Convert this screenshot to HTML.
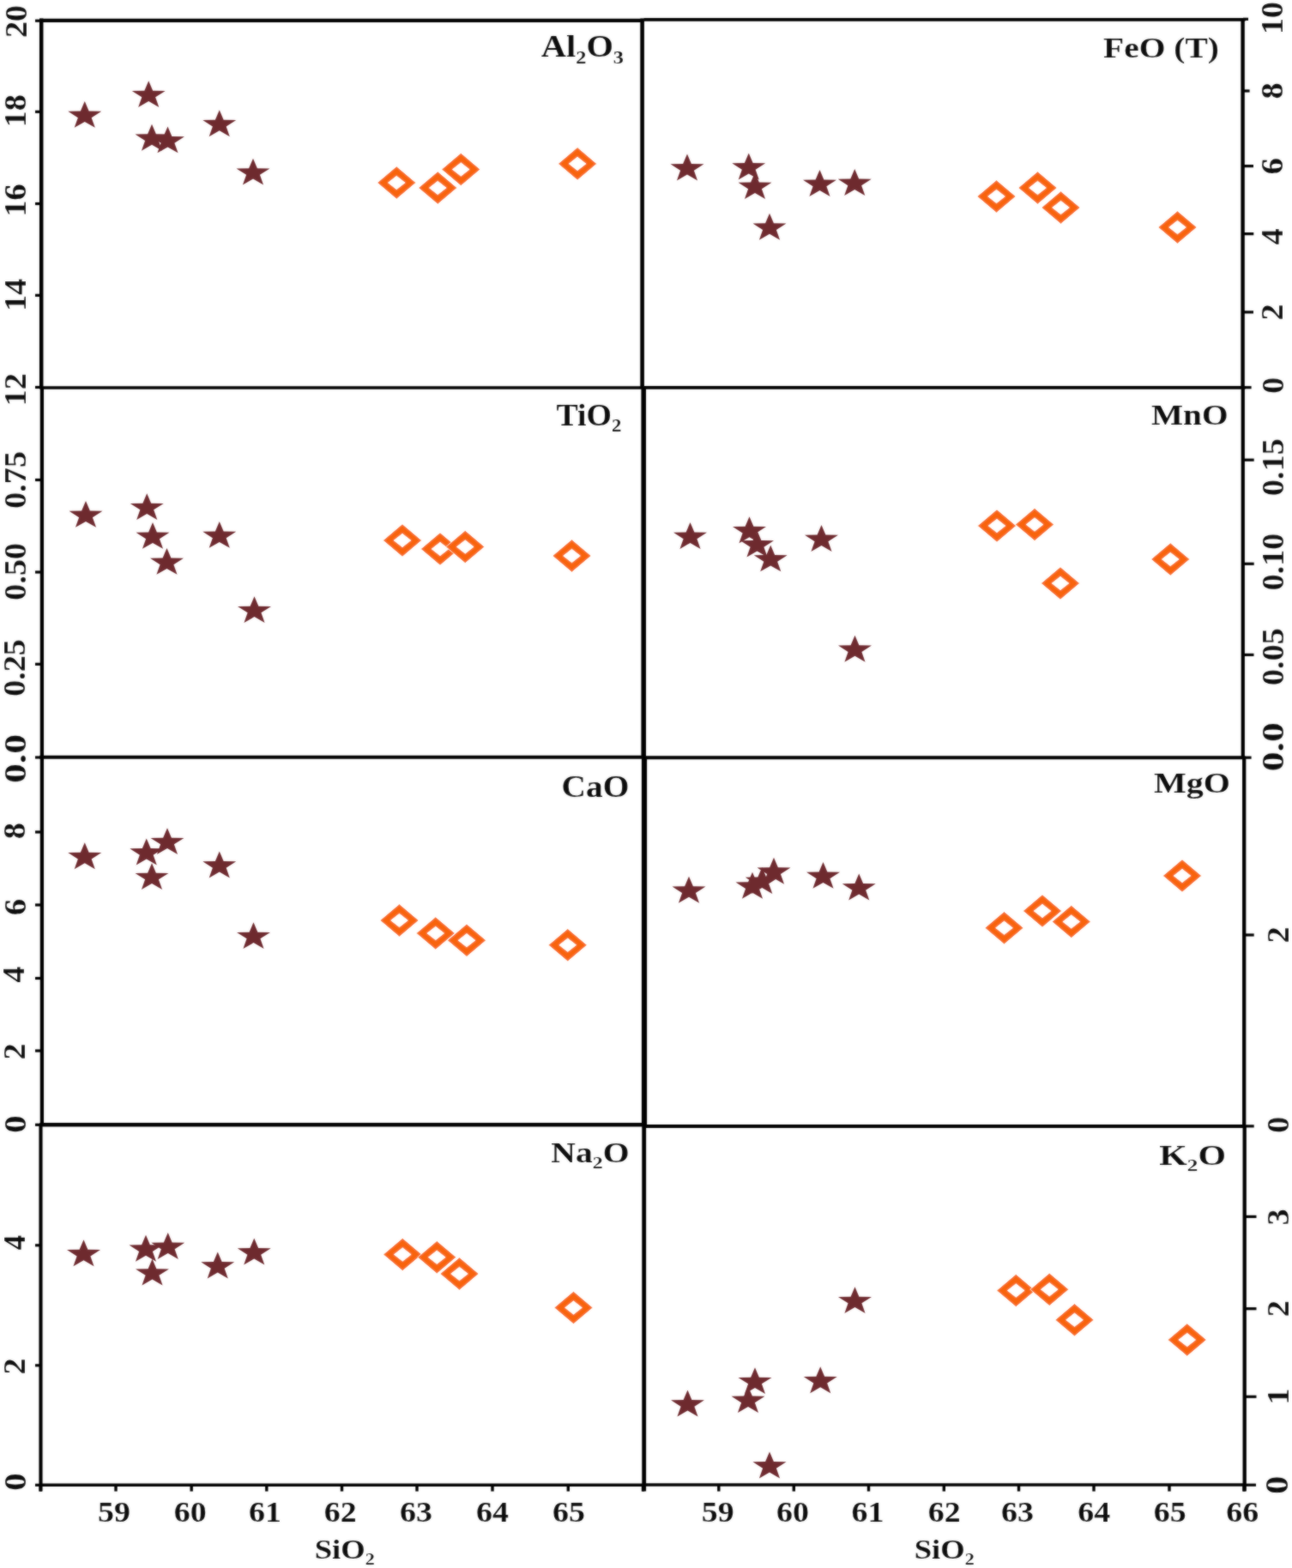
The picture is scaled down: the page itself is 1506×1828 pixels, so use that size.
<!DOCTYPE html><html><head><meta charset="utf-8"><title>Harker diagrams</title>
<style>html,body{margin:0;padding:0;background:#fff}body{width:1506px;height:1828px;overflow:hidden}svg{display:block}text{font-family:'Liberation Serif', 'DejaVu Serif', serif;font-weight:bold;fill:#0a0a0a;stroke:#fff;stroke-width:0.1px}</style></head><body>
<svg width="1506" height="1828" viewBox="0 0 1506 1828">
<defs><filter id="b" x="-2%" y="-2%" width="104%" height="104%"><feGaussianBlur in="SourceGraphic" stdDeviation="0.8" result="g"/><feComposite in="SourceGraphic" in2="g" operator="arithmetic" k1="0" k2="0.45" k3="0.55" k4="0"/></filter></defs>
<rect width="1506" height="1828" fill="#fff"/>
<g filter="url(#b)">
<g stroke="#050505" fill="none">
<line x1="46.3" y1="23.80" x2="750.5" y2="23.80" stroke-width="4.3"/>
<line x1="750.5" y1="22.90" x2="1451.5" y2="22.90" stroke-width="3.7"/>
<line x1="46.3" y1="452.00" x2="750.5" y2="452.00" stroke-width="3.7"/>
<line x1="750.5" y1="451.90" x2="1451.5" y2="451.90" stroke-width="3.6"/>
<line x1="46.3" y1="882.80" x2="750.5" y2="882.80" stroke-width="4.0"/>
<line x1="750.5" y1="883.20" x2="1451.5" y2="883.20" stroke-width="3.9"/>
<line x1="46.3" y1="1311.30" x2="750.5" y2="1311.30" stroke-width="4.6"/>
<line x1="750.5" y1="1313.10" x2="1451.5" y2="1313.10" stroke-width="4.0"/>
<line x1="46.3" y1="1731.30" x2="750.5" y2="1731.30" stroke-width="3.5"/>
<line x1="750.5" y1="1731.00" x2="1451.5" y2="1731.00" stroke-width="3.4"/>
<line x1="48.20" y1="21.5" x2="48.20" y2="452.0" stroke-width="4.5"/>
<line x1="48.90" y1="452.0" x2="48.90" y2="883.0" stroke-width="4.3"/>
<line x1="48.90" y1="883.0" x2="48.90" y2="1312.0" stroke-width="4.3"/>
<line x1="47.50" y1="1312.0" x2="47.50" y2="1738.5" stroke-width="4.1"/>
<line x1="748.60" y1="21.5" x2="748.60" y2="452.0" stroke-width="4.6"/>
<line x1="750.20" y1="452.0" x2="750.20" y2="883.0" stroke-width="5.6"/>
<line x1="751.00" y1="883.0" x2="751.00" y2="1312.0" stroke-width="6.2"/>
<line x1="750.70" y1="1312.0" x2="750.70" y2="1738.5" stroke-width="4.8"/>
<line x1="1448.60" y1="21.5" x2="1448.60" y2="452.0" stroke-width="4.4"/>
<line x1="1448.80" y1="452.0" x2="1448.80" y2="883.0" stroke-width="4.2"/>
<line x1="1450.20" y1="883.0" x2="1450.20" y2="1312.0" stroke-width="4.3"/>
<line x1="1450.70" y1="1312.0" x2="1450.70" y2="1738.5" stroke-width="4.3"/>
<line x1="41.0" y1="24.20" x2="48.8" y2="24.20" stroke-width="3.2"/>
<line x1="41.0" y1="130.30" x2="48.8" y2="130.30" stroke-width="3.2"/>
<line x1="41.0" y1="237.50" x2="48.8" y2="237.50" stroke-width="3.2"/>
<line x1="41.0" y1="344.30" x2="48.8" y2="344.30" stroke-width="3.2"/>
<line x1="41.0" y1="451.50" x2="48.8" y2="451.50" stroke-width="3.2"/>
<line x1="41.0" y1="559.50" x2="48.8" y2="559.50" stroke-width="3.2"/>
<line x1="41.0" y1="667.00" x2="48.8" y2="667.00" stroke-width="3.2"/>
<line x1="41.0" y1="774.30" x2="48.8" y2="774.30" stroke-width="3.2"/>
<line x1="41.0" y1="883.00" x2="48.8" y2="883.00" stroke-width="3.2"/>
<line x1="41.0" y1="970.00" x2="48.8" y2="970.00" stroke-width="3.2"/>
<line x1="41.0" y1="1055.00" x2="48.8" y2="1055.00" stroke-width="3.2"/>
<line x1="41.0" y1="1140.50" x2="48.8" y2="1140.50" stroke-width="3.2"/>
<line x1="41.0" y1="1225.00" x2="48.8" y2="1225.00" stroke-width="3.2"/>
<line x1="41.0" y1="1311.30" x2="48.8" y2="1311.30" stroke-width="3.2"/>
<line x1="41.0" y1="1451.80" x2="48.8" y2="1451.80" stroke-width="3.2"/>
<line x1="41.0" y1="1591.80" x2="48.8" y2="1591.80" stroke-width="3.2"/>
<line x1="41.0" y1="1731.30" x2="48.8" y2="1731.30" stroke-width="3.2"/>
<line x1="1449.0" y1="22.30" x2="1455.0" y2="22.30" stroke-width="3.2"/>
<line x1="1449.0" y1="106.00" x2="1456.6" y2="106.00" stroke-width="3.2"/>
<line x1="1449.0" y1="193.60" x2="1461.0" y2="193.60" stroke-width="3.2"/>
<line x1="1449.0" y1="272.60" x2="1461.3" y2="272.60" stroke-width="3.2"/>
<line x1="1449.0" y1="363.90" x2="1461.0" y2="363.90" stroke-width="3.2"/>
<line x1="1449.0" y1="451.70" x2="1458.6" y2="451.70" stroke-width="3.2"/>
<line x1="1449.0" y1="536.20" x2="1461.7" y2="536.20" stroke-width="3.2"/>
<line x1="1449.0" y1="657.30" x2="1461.7" y2="657.30" stroke-width="3.2"/>
<line x1="1449.0" y1="763.40" x2="1461.5" y2="763.40" stroke-width="3.2"/>
<line x1="1449.0" y1="883.20" x2="1458.6" y2="883.20" stroke-width="3.2"/>
<line x1="1449.0" y1="1090.00" x2="1461.7" y2="1090.00" stroke-width="3.2"/>
<line x1="1449.0" y1="1312.90" x2="1461.7" y2="1312.90" stroke-width="3.2"/>
<line x1="1449.0" y1="1418.40" x2="1464.5" y2="1418.40" stroke-width="3.2"/>
<line x1="1449.0" y1="1525.70" x2="1464.5" y2="1525.70" stroke-width="3.2"/>
<line x1="1449.0" y1="1628.30" x2="1464.5" y2="1628.30" stroke-width="3.2"/>
<line x1="1449.0" y1="1731.20" x2="1464.0" y2="1731.20" stroke-width="3.2"/>
<line x1="47.30" y1="1731.0" x2="47.30" y2="1738.6" stroke-width="3.4"/>
<line x1="135.00" y1="1731.0" x2="135.00" y2="1738.6" stroke-width="3.4"/>
<line x1="223.20" y1="1731.0" x2="223.20" y2="1738.6" stroke-width="3.4"/>
<line x1="310.80" y1="1731.0" x2="310.80" y2="1738.6" stroke-width="3.4"/>
<line x1="398.50" y1="1731.0" x2="398.50" y2="1738.6" stroke-width="3.4"/>
<line x1="486.00" y1="1731.0" x2="486.00" y2="1738.6" stroke-width="3.4"/>
<line x1="574.00" y1="1731.0" x2="574.00" y2="1738.6" stroke-width="3.4"/>
<line x1="662.30" y1="1731.0" x2="662.30" y2="1738.6" stroke-width="3.4"/>
<line x1="749.50" y1="1731.0" x2="749.50" y2="1738.6" stroke-width="3.4"/>
<line x1="837.80" y1="1731.0" x2="837.80" y2="1738.6" stroke-width="3.4"/>
<line x1="925.30" y1="1731.0" x2="925.30" y2="1738.6" stroke-width="3.4"/>
<line x1="1012.50" y1="1731.0" x2="1012.50" y2="1738.6" stroke-width="3.4"/>
<line x1="1100.30" y1="1731.0" x2="1100.30" y2="1738.6" stroke-width="3.4"/>
<line x1="1187.50" y1="1731.0" x2="1187.50" y2="1738.6" stroke-width="3.4"/>
<line x1="1275.00" y1="1731.0" x2="1275.00" y2="1738.6" stroke-width="3.4"/>
<line x1="1363.00" y1="1731.0" x2="1363.00" y2="1738.6" stroke-width="3.4"/>
<line x1="1450.00" y1="1731.0" x2="1450.00" y2="1738.6" stroke-width="3.4"/>
</g>
<g fill="#6e2a2f">
<polygon points="98.75,118.02 103.63,129.45 118.25,129.77 106.65,137.15 110.80,148.78 98.75,141.91 86.70,148.78 90.85,137.15 79.25,129.77 93.87,129.45"/>
<polygon points="173.25,94.22 178.13,105.65 192.75,105.97 181.15,113.35 185.30,124.98 173.25,118.11 161.20,124.98 165.35,113.35 153.75,105.97 168.37,105.65"/>
<polygon points="177.00,144.87 181.88,156.30 196.50,156.62 184.90,164.00 189.05,175.63 177.00,168.76 164.95,175.63 169.10,164.00 157.50,156.62 172.12,156.30"/>
<polygon points="195.50,147.52 200.38,158.95 215.00,159.27 203.40,166.65 207.55,178.28 195.50,171.41 183.45,178.28 187.60,166.65 176.00,159.27 190.62,158.95"/>
<polygon points="255.75,128.37 260.63,139.80 275.25,140.12 263.65,147.50 267.80,159.13 255.75,152.26 243.70,159.13 247.85,147.50 236.25,140.12 250.87,139.80"/>
<polygon points="295.00,184.72 299.88,196.15 314.50,196.47 302.90,203.85 307.05,215.48 295.00,208.61 282.95,215.48 287.10,203.85 275.50,196.47 290.12,196.15"/>
<polygon points="801.00,179.62 805.88,191.05 820.50,191.37 808.90,198.75 813.05,210.38 801.00,203.51 788.95,210.38 793.10,198.75 781.50,191.37 796.12,191.05"/>
<polygon points="872.75,178.62 877.63,190.05 892.25,190.37 880.65,197.75 884.80,209.38 872.75,202.51 860.70,209.38 864.85,197.75 853.25,190.37 867.87,190.05"/>
<polygon points="880.00,201.12 884.88,212.55 899.50,212.87 887.90,220.25 892.05,231.88 880.00,225.01 867.95,231.88 872.10,220.25 860.50,212.87 875.12,212.55"/>
<polygon points="897.00,248.87 901.88,260.30 916.50,260.62 904.90,268.00 909.05,279.63 897.00,272.76 884.95,279.63 889.10,268.00 877.50,260.62 892.12,260.30"/>
<polygon points="955.50,198.12 960.38,209.55 975.00,209.87 963.40,217.25 967.55,228.88 955.50,222.01 943.45,228.88 947.60,217.25 936.00,209.87 950.62,209.55"/>
<polygon points="996.25,197.12 1001.13,208.55 1015.75,208.87 1004.15,216.25 1008.30,227.88 996.25,221.01 984.20,227.88 988.35,216.25 976.75,208.87 991.37,208.55"/>
<polygon points="100.00,584.02 104.88,595.45 119.50,595.77 107.90,603.15 112.05,614.78 100.00,607.91 87.95,614.78 92.10,603.15 80.50,595.77 95.12,595.45"/>
<polygon points="171.25,575.22 176.13,586.65 190.75,586.97 179.15,594.35 183.30,605.98 171.25,599.11 159.20,605.98 163.35,594.35 151.75,586.97 166.37,586.65"/>
<polygon points="178.00,609.02 182.88,620.45 197.50,620.77 185.90,628.15 190.05,639.78 178.00,632.91 165.95,639.78 170.10,628.15 158.50,620.77 173.12,620.45"/>
<polygon points="194.50,639.02 199.38,650.45 214.00,650.77 202.40,658.15 206.55,669.78 194.50,662.91 182.45,669.78 186.60,658.15 175.00,650.77 189.62,650.45"/>
<polygon points="255.75,608.02 260.63,619.45 275.25,619.77 263.65,627.15 267.80,638.78 255.75,631.91 243.70,638.78 247.85,627.15 236.25,619.77 250.87,619.45"/>
<polygon points="296.50,695.22 301.38,706.65 316.00,706.97 304.40,714.35 308.55,725.98 296.50,719.11 284.45,725.98 288.60,714.35 277.00,706.97 291.62,706.65"/>
<polygon points="804.50,609.12 809.38,620.55 824.00,620.87 812.40,628.25 816.55,639.88 804.50,633.01 792.45,639.88 796.60,628.25 785.00,620.87 799.62,620.55"/>
<polygon points="873.50,602.37 878.38,613.80 893.00,614.12 881.40,621.50 885.55,633.13 873.50,626.26 861.45,633.13 865.60,621.50 854.00,614.12 868.62,613.80"/>
<polygon points="882.50,618.62 887.38,630.05 902.00,630.37 890.40,637.75 894.55,649.38 882.50,642.51 870.45,649.38 874.60,637.75 863.00,630.37 877.62,630.05"/>
<polygon points="898.25,635.52 903.13,646.95 917.75,647.27 906.15,654.65 910.30,666.28 898.25,659.41 886.20,666.28 890.35,654.65 878.75,647.27 893.37,646.95"/>
<polygon points="957.50,612.12 962.38,623.55 977.00,623.87 965.40,631.25 969.55,642.88 957.50,636.01 945.45,642.88 949.60,631.25 938.00,623.87 952.62,623.55"/>
<polygon points="996.50,740.87 1001.38,752.30 1016.00,752.62 1004.40,760.00 1008.55,771.63 996.50,764.76 984.45,771.63 988.60,760.00 977.00,752.62 991.62,752.30"/>
<polygon points="98.75,982.37 103.63,993.80 118.25,994.12 106.65,1001.50 110.80,1013.13 98.75,1006.26 86.70,1013.13 90.85,1001.50 79.25,994.12 93.87,993.80"/>
<polygon points="170.75,977.62 175.63,989.05 190.25,989.37 178.65,996.75 182.80,1008.38 170.75,1001.51 158.70,1008.38 162.85,996.75 151.25,989.37 165.87,989.05"/>
<polygon points="195.00,965.22 199.88,976.65 214.50,976.97 202.90,984.35 207.05,995.98 195.00,989.11 182.95,995.98 187.10,984.35 175.50,976.97 190.12,976.65"/>
<polygon points="177.00,1006.22 181.88,1017.65 196.50,1017.97 184.90,1025.35 189.05,1036.98 177.00,1030.11 164.95,1036.98 169.10,1025.35 157.50,1017.97 172.12,1017.65"/>
<polygon points="255.75,992.62 260.63,1004.05 275.25,1004.37 263.65,1011.75 267.80,1023.38 255.75,1016.51 243.70,1023.38 247.85,1011.75 236.25,1004.37 250.87,1004.05"/>
<polygon points="295.50,1075.22 300.38,1086.65 315.00,1086.97 303.40,1094.35 307.55,1105.98 295.50,1099.11 283.45,1105.98 287.60,1094.35 276.00,1086.97 290.62,1086.65"/>
<polygon points="803.00,1021.87 807.88,1033.30 822.50,1033.62 810.90,1041.00 815.05,1052.63 803.00,1045.76 790.95,1052.63 795.10,1041.00 783.50,1033.62 798.12,1033.30"/>
<polygon points="877.00,1016.87 881.88,1028.30 896.50,1028.62 884.90,1036.00 889.05,1047.63 877.00,1040.76 864.95,1047.63 869.10,1036.00 857.50,1028.62 872.12,1028.30"/>
<polygon points="888.25,1011.12 893.13,1022.55 907.75,1022.87 896.15,1030.25 900.30,1041.88 888.25,1035.01 876.20,1041.88 880.35,1030.25 868.75,1022.87 883.37,1022.55"/>
<polygon points="902.00,999.87 906.88,1011.30 921.50,1011.62 909.90,1019.00 914.05,1030.63 902.00,1023.76 889.95,1030.63 894.10,1019.00 882.50,1011.62 897.12,1011.30"/>
<polygon points="959.50,1005.02 964.38,1016.45 979.00,1016.77 967.40,1024.15 971.55,1035.78 959.50,1028.91 947.45,1035.78 951.60,1024.15 940.00,1016.77 954.62,1016.45"/>
<polygon points="1001.25,1018.62 1006.13,1030.05 1020.75,1030.37 1009.15,1037.75 1013.30,1049.38 1001.25,1042.51 989.20,1049.38 993.35,1037.75 981.75,1030.37 996.37,1030.05"/>
<polygon points="97.50,1445.37 102.38,1456.80 117.00,1457.12 105.40,1464.50 109.55,1476.13 97.50,1469.26 85.45,1476.13 89.60,1464.50 78.00,1457.12 92.62,1456.80"/>
<polygon points="170.00,1439.87 174.88,1451.30 189.50,1451.62 177.90,1459.00 182.05,1470.63 170.00,1463.76 157.95,1470.63 162.10,1459.00 150.50,1451.62 165.12,1451.30"/>
<polygon points="195.75,1437.12 200.63,1448.55 215.25,1448.87 203.65,1456.25 207.80,1467.88 195.75,1461.01 183.70,1467.88 187.85,1456.25 176.25,1448.87 190.87,1448.55"/>
<polygon points="177.50,1467.72 182.38,1479.15 197.00,1479.47 185.40,1486.85 189.55,1498.48 177.50,1491.61 165.45,1498.48 169.60,1486.85 158.00,1479.47 172.62,1479.15"/>
<polygon points="253.75,1459.62 258.63,1471.05 273.25,1471.37 261.65,1478.75 265.80,1490.38 253.75,1483.51 241.70,1490.38 245.85,1478.75 234.25,1471.37 248.87,1471.05"/>
<polygon points="296.25,1443.62 301.13,1455.05 315.75,1455.37 304.15,1462.75 308.30,1474.38 296.25,1467.51 284.20,1474.38 288.35,1462.75 276.75,1455.37 291.37,1455.05"/>
<polygon points="801.50,1620.62 806.38,1632.05 821.00,1632.37 809.40,1639.75 813.55,1651.38 801.50,1644.51 789.45,1651.38 793.60,1639.75 782.00,1632.37 796.62,1632.05"/>
<polygon points="872.00,1616.12 876.88,1627.55 891.50,1627.87 879.90,1635.25 884.05,1646.88 872.00,1640.01 859.95,1646.88 864.10,1635.25 852.50,1627.87 867.12,1627.55"/>
<polygon points="880.00,1594.22 884.88,1605.65 899.50,1605.97 887.90,1613.35 892.05,1624.98 880.00,1618.11 867.95,1624.98 872.10,1613.35 860.50,1605.97 875.12,1605.65"/>
<polygon points="897.00,1692.62 901.88,1704.05 916.50,1704.37 904.90,1711.75 909.05,1723.38 897.00,1716.51 884.95,1723.38 889.10,1711.75 877.50,1704.37 892.12,1704.05"/>
<polygon points="956.25,1593.37 961.13,1604.80 975.75,1605.12 964.15,1612.50 968.30,1624.13 956.25,1617.26 944.20,1624.13 948.35,1612.50 936.75,1605.12 951.37,1604.80"/>
<polygon points="996.50,1500.22 1001.38,1511.65 1016.00,1511.97 1004.40,1519.35 1008.55,1530.98 996.50,1524.11 984.45,1530.98 988.60,1519.35 977.00,1511.97 991.62,1511.65"/>
</g>
<g fill="#f86407" fill-rule="evenodd" stroke="#fff" stroke-width="0.8">
<path d="M439.75 213.00L462.25 193.90L484.75 213.00L462.25 232.10ZM452.35 213.00L462.25 205.20L472.15 213.00L462.25 220.80Z"/>
<path d="M487.75 219.00L510.25 199.90L532.75 219.00L510.25 238.10ZM500.35 219.00L510.25 211.20L520.15 219.00L510.25 226.80Z"/>
<path d="M514.75 197.50L537.25 178.40L559.75 197.50L537.25 216.60ZM527.35 197.50L537.25 189.70L547.15 197.50L537.25 205.30Z"/>
<path d="M650.60 190.90L673.10 171.80L695.60 190.90L673.10 210.00ZM663.20 190.90L673.10 183.10L683.00 190.90L673.10 198.70Z"/>
<path d="M1139.00 229.00L1161.50 209.90L1184.00 229.00L1161.50 248.10ZM1151.60 229.00L1161.50 221.20L1171.40 229.00L1161.50 236.80Z"/>
<path d="M1187.00 219.00L1209.50 199.90L1232.00 219.00L1209.50 238.10ZM1199.60 219.00L1209.50 211.20L1219.40 219.00L1209.50 226.80Z"/>
<path d="M1214.00 242.00L1236.50 222.90L1259.00 242.00L1236.50 261.10ZM1226.60 242.00L1236.50 234.20L1246.40 242.00L1236.50 249.80Z"/>
<path d="M1350.00 265.00L1372.50 245.90L1395.00 265.00L1372.50 284.10ZM1362.60 265.00L1372.50 257.20L1382.40 265.00L1372.50 272.80Z"/>
<path d="M446.50 630.00L469.00 610.90L491.50 630.00L469.00 649.10ZM459.10 630.00L469.00 622.20L478.90 630.00L469.00 637.80Z"/>
<path d="M490.50 640.00L513.00 620.90L535.50 640.00L513.00 659.10ZM503.10 640.00L513.00 632.20L522.90 640.00L513.00 647.80Z"/>
<path d="M519.75 637.50L542.25 618.40L564.75 637.50L542.25 656.60ZM532.35 637.50L542.25 629.70L552.15 637.50L542.25 645.30Z"/>
<path d="M644.00 648.00L666.50 628.90L689.00 648.00L666.50 667.10ZM656.60 648.00L666.50 640.20L676.40 648.00L666.50 655.80Z"/>
<path d="M1139.50 613.00L1162.00 593.90L1184.50 613.00L1162.00 632.10ZM1152.10 613.00L1162.00 605.20L1171.90 613.00L1162.00 620.80Z"/>
<path d="M1183.50 611.50L1206.00 592.40L1228.50 611.50L1206.00 630.60ZM1196.10 611.50L1206.00 603.70L1215.90 611.50L1206.00 619.30Z"/>
<path d="M1213.50 680.00L1236.00 660.90L1258.50 680.00L1236.00 699.10ZM1226.10 680.00L1236.00 672.20L1245.90 680.00L1236.00 687.80Z"/>
<path d="M1341.75 652.00L1364.25 632.90L1386.75 652.00L1364.25 671.10ZM1354.35 652.00L1364.25 644.20L1374.15 652.00L1364.25 659.80Z"/>
<path d="M443.00 1073.00L465.50 1053.90L488.00 1073.00L465.50 1092.10ZM455.60 1073.00L465.50 1065.20L475.40 1073.00L465.50 1080.80Z"/>
<path d="M485.25 1088.00L507.75 1068.90L530.25 1088.00L507.75 1107.10ZM497.85 1088.00L507.75 1080.20L517.65 1088.00L507.75 1095.80Z"/>
<path d="M521.50 1096.25L544.00 1077.15L566.50 1096.25L544.00 1115.35ZM534.10 1096.25L544.00 1088.45L553.90 1096.25L544.00 1104.05Z"/>
<path d="M639.25 1101.75L661.75 1082.65L684.25 1101.75L661.75 1120.85ZM651.85 1101.75L661.75 1093.95L671.65 1101.75L661.75 1109.55Z"/>
<path d="M1148.00 1081.75L1170.50 1062.65L1193.00 1081.75L1170.50 1100.85ZM1160.60 1081.75L1170.50 1073.95L1180.40 1081.75L1170.50 1089.55Z"/>
<path d="M1192.50 1062.00L1215.00 1042.90L1237.50 1062.00L1215.00 1081.10ZM1205.10 1062.00L1215.00 1054.20L1224.90 1062.00L1215.00 1069.80Z"/>
<path d="M1226.25 1074.50L1248.75 1055.40L1271.25 1074.50L1248.75 1093.60ZM1238.85 1074.50L1248.75 1066.70L1258.65 1074.50L1248.75 1082.30Z"/>
<path d="M1355.50 1021.00L1378.00 1001.90L1400.50 1021.00L1378.00 1040.10ZM1368.10 1021.00L1378.00 1013.20L1387.90 1021.00L1378.00 1028.80Z"/>
<path d="M446.75 1462.50L469.25 1443.40L491.75 1462.50L469.25 1481.60ZM459.35 1462.50L469.25 1454.70L479.15 1462.50L469.25 1470.30Z"/>
<path d="M486.75 1465.75L509.25 1446.65L531.75 1465.75L509.25 1484.85ZM499.35 1465.75L509.25 1457.95L519.15 1465.75L509.25 1473.55Z"/>
<path d="M513.00 1485.00L535.50 1465.90L558.00 1485.00L535.50 1504.10ZM525.60 1485.00L535.50 1477.20L545.40 1485.00L535.50 1492.80Z"/>
<path d="M646.00 1524.50L668.50 1505.40L691.00 1524.50L668.50 1543.60ZM658.60 1524.50L668.50 1516.70L678.40 1524.50L668.50 1532.30Z"/>
<path d="M1161.75 1504.50L1184.25 1485.40L1206.75 1504.50L1184.25 1523.60ZM1174.35 1504.50L1184.25 1496.70L1194.15 1504.50L1184.25 1512.30Z"/>
<path d="M1200.75 1503.25L1223.25 1484.15L1245.75 1503.25L1223.25 1522.35ZM1213.35 1503.25L1223.25 1495.45L1233.15 1503.25L1223.25 1511.05Z"/>
<path d="M1230.00 1538.75L1252.50 1519.65L1275.00 1538.75L1252.50 1557.85ZM1242.60 1538.75L1252.50 1530.95L1262.40 1538.75L1252.50 1546.55Z"/>
<path d="M1361.25 1562.00L1383.75 1542.90L1406.25 1562.00L1383.75 1581.10ZM1373.85 1562.00L1383.75 1554.20L1393.65 1562.00L1383.75 1569.80Z"/>
</g>
<g font-size="35" text-anchor="middle" letter-spacing="0">
<text transform="translate(30.60,25.00) rotate(-90) scale(1.090,1)">20</text>
<text transform="translate(30.40,129.20) rotate(-90) scale(1.090,1)">18</text>
<text transform="translate(29.80,233.50) rotate(-90) scale(1.090,1)">16</text>
<text transform="translate(29.60,343.80) rotate(-90) scale(1.090,1)">14</text>
<text transform="translate(30.40,454.30) rotate(-90) scale(1.090,1)">12</text>
<text transform="translate(30.40,559.40) rotate(-90) scale(1.090,1)">0.75</text>
<text transform="translate(30.40,666.30) rotate(-90) scale(1.090,1)">0.50</text>
<text transform="translate(28.60,778.50) rotate(-90) scale(1.090,1)">0.25</text>
<text transform="translate(29.90,884.50) rotate(-90) scale(1.300,1)">0.0</text>
<text transform="translate(29.20,968.80) rotate(-90) scale(1.090,1)">8</text>
<text transform="translate(29.80,1057.50) rotate(-90) scale(1.090,1)">6</text>
<text transform="translate(28.20,1136.00) rotate(-90) scale(1.090,1)">4</text>
<text transform="translate(28.80,1226.00) rotate(-90) scale(1.090,1)">2</text>
<text transform="translate(29.60,1310.50) rotate(-90) scale(1.160,1)">0</text>
<text transform="translate(28.60,1448.60) rotate(-90) scale(1.000,1)">4</text>
<text transform="translate(29.20,1593.00) rotate(-90) scale(1.090,1)">2</text>
<text transform="translate(30.00,1727.60) rotate(-90) scale(1.160,1)">0</text>
<text transform="translate(1494.80,21.00) rotate(-90) scale(1.090,1)">10</text>
<text transform="translate(1494.80,106.00) rotate(-90) scale(1.090,1)">8</text>
<text transform="translate(1494.80,193.70) rotate(-90) scale(1.090,1)">6</text>
<text transform="translate(1494.80,275.80) rotate(-90) scale(1.090,1)">4</text>
<text transform="translate(1494.80,364.00) rotate(-90) scale(1.090,1)">2</text>
<text transform="translate(1495.50,449.30) rotate(-90) scale(1.090,1)">0</text>
<text transform="translate(1495.50,544.60) rotate(-90) scale(1.090,1)">0.15</text>
<text transform="translate(1495.50,655.00) rotate(-90) scale(1.090,1)">0.10</text>
<text transform="translate(1495.50,765.60) rotate(-90) scale(1.090,1)">0.05</text>
<text transform="translate(1495.50,870.80) rotate(-90) scale(1.300,1)">0.0</text>
<text transform="translate(1501.50,1090.00) rotate(-90) scale(1.090,1)">2</text>
<text transform="translate(1501.50,1311.30) rotate(-90) scale(1.090,1)">0</text>
<text transform="translate(1501.50,1419.00) rotate(-90) scale(1.090,1)">3</text>
<text transform="translate(1501.50,1525.60) rotate(-90) scale(1.090,1)">2</text>
<text transform="translate(1501.50,1628.00) rotate(-90) scale(1.090,1)">1</text>
<text transform="translate(1501.20,1731.30) rotate(-90) scale(1.130,1)" font-size="37">0</text>
</g>
<g font-size="34" text-anchor="middle">
<text transform="translate(133.00,1773.80) scale(1.115,1)">59</text>
<text transform="translate(221.70,1773.80) scale(1.115,1)">60</text>
<text transform="translate(309.00,1773.80) scale(1.115,1)">61</text>
<text transform="translate(396.70,1773.80) scale(1.115,1)">62</text>
<text transform="translate(485.00,1773.80) scale(1.115,1)">63</text>
<text transform="translate(574.00,1773.80) scale(1.115,1)">64</text>
<text transform="translate(663.00,1773.80) scale(1.115,1)">65</text>
<text transform="translate(836.70,1773.80) scale(1.115,1)">59</text>
<text transform="translate(924.00,1773.80) scale(1.115,1)">60</text>
<text transform="translate(1011.50,1773.80) scale(1.115,1)">61</text>
<text transform="translate(1100.70,1773.80) scale(1.115,1)">62</text>
<text transform="translate(1186.00,1773.80) scale(1.115,1)">63</text>
<text transform="translate(1275.30,1773.80) scale(1.115,1)">64</text>
<text transform="translate(1363.70,1773.80) scale(1.115,1)">65</text>
<text transform="translate(1448.30,1773.80) scale(1.115,1)">66</text>
</g>
<g>
<text transform="translate(630.80,65.70) scale(1.1237,1)"><tspan font-size="36">Al</tspan><tspan font-size="21.6" dy="7.9">2</tspan><tspan font-size="36" dy="-7.9">O</tspan><tspan font-size="21.6" dy="7.9">3</tspan></text>
<text transform="translate(1286.00,67.00) scale(1.1624,1)"><tspan font-size="34">FeO (T)</tspan></text>
<text transform="translate(648.50,495.50) scale(1.0833,1)"><tspan font-size="35">TiO</tspan><tspan font-size="21.0" dy="7.7">2</tspan></text>
<text transform="translate(1342.00,494.80) scale(1.1906,1)"><tspan font-size="33">MnO</tspan></text>
<text transform="translate(654.60,929.00) scale(1.0795,1)"><tspan font-size="36.5">CaO</tspan></text>
<text transform="translate(1345.00,923.80) scale(1.2138,1)"><tspan font-size="33">MgO</tspan></text>
<text transform="translate(642.30,1355.00) scale(1.2016,1)"><tspan font-size="33">Na</tspan><tspan font-size="19.8" dy="7.3">2</tspan><tspan font-size="33" dy="-7.3">O</tspan></text>
<text transform="translate(1351.30,1357.70) scale(1.2686,1)"><tspan font-size="33">K</tspan><tspan font-size="19.8" dy="7.3">2</tspan><tspan font-size="33" dy="-7.3">O</tspan></text>
<text transform="translate(366.70,1816.80) scale(1.1441,1)"><tspan font-size="32">SiO</tspan><tspan font-size="19.2" dy="7.0">2</tspan></text>
<text transform="translate(1065.70,1816.80) scale(1.1441,1)"><tspan font-size="32">SiO</tspan><tspan font-size="19.2" dy="7.0">2</tspan></text>
</g>
</g></svg></body></html>
